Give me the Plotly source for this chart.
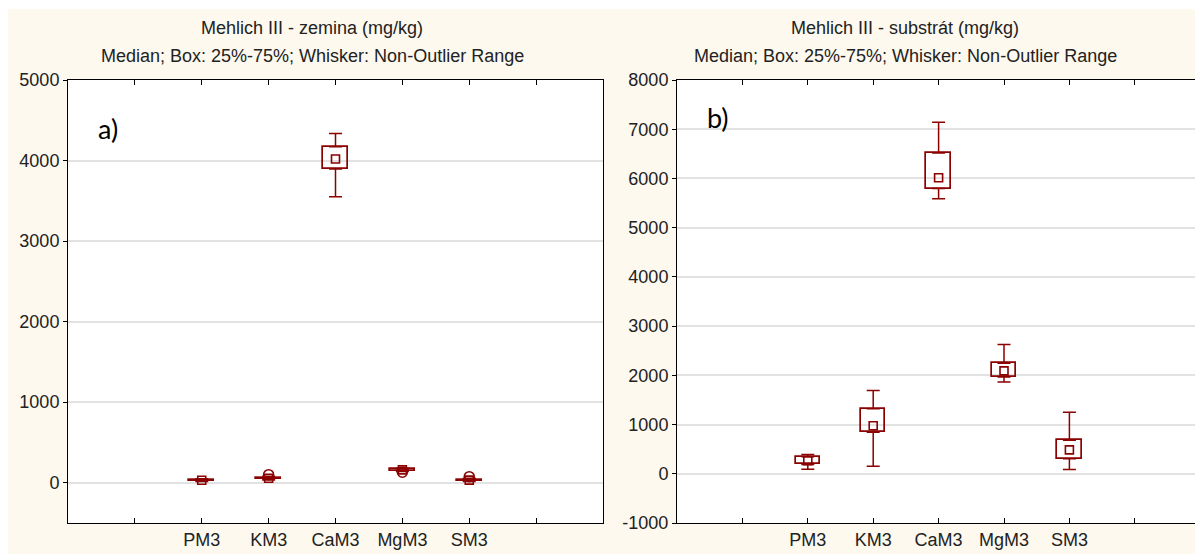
import plotly.graph_objects as go

# ---------------- data ----------------
slots = ["", "PM3", "KM3", "CaM3", "MgM3", "SM3", " "]   # x-axis tick labels (blank end slots)
cats = ["PM3", "KM3", "CaM3", "MgM3", "SM3"]

# a) Mehlich III - zemina (mg/kg)
soil_min = [15, 35, 3550, 140, 15]
soil_q1 = [24, 47, 3895, 150, 25]
soil_med = [30, 55, 4020, 160, 32]
soil_q3 = [38, 63, 4170, 170, 40]
soil_max = [50, 80, 4335, 180, 55]
soil_out_cat = ["KM3", "MgM3", "SM3"]
soil_out_val = [100, 130, 75]

# b) Mehlich III - substrát (mg/kg)
sub_min = [90, 155, 5590, 1866, 85]
sub_q1 = [190, 845, 5795, 1967, 305]
sub_med = [265, 975, 6015, 2090, 485]
sub_q3 = [345, 1320, 6515, 2245, 680]
sub_max = [390, 1690, 7140, 2625, 1250]

soil_yticks = [0, 1000, 2000, 3000, 4000, 5000]
sub_yticks = [-1000, 0, 1000, 2000, 3000, 4000, 5000, 6000, 7000, 8000]

titles = ["Mehlich III - zemina (mg/kg)", "Mehlich III - substrát (mg/kg)"]
subtitle = "Median; Box: 25%-75%; Whisker: Non-Outlier Range"
panel_labels = ["a)", "b)"]

# ---------------- style ----------------
MAROON = "#8B0000"
CREAM = "#FDF9EF"
FONT = "Liberation Sans, Arial, sans-serif"
BOXW = 0.375


def pos(c):
    return slots.index(c)


fig = go.Figure()


def add_panel(xa, ya, mn, q1, md, q3, mx, out_c=None, out_v=None):
    xs = [pos(c) for c in cats]
    # boxes
    fig.add_trace(go.Bar(
        x=xs, y=[b - a for a, b in zip(q1, q3)], base=q1, width=BOXW,
        marker=dict(color="rgba(0,0,0,0)", line=dict(color=MAROON, width=1.7)),
        xaxis=xa, yaxis=ya, showlegend=False, hoverinfo="skip"))
    # upper whiskers
    fig.add_trace(go.Scatter(
        x=xs, y=q3, mode="markers",
        marker=dict(size=1, color="rgba(0,0,0,0)"),
        error_y=dict(type="data", symmetric=False,
                     array=[b - a for a, b in zip(q3, mx)],
                     arrayminus=[0] * len(xs),
                     color=MAROON, thickness=1.5, width=6.5),
        xaxis=xa, yaxis=ya, showlegend=False, hoverinfo="skip"))
    # lower whiskers
    fig.add_trace(go.Scatter(
        x=xs, y=q1, mode="markers",
        marker=dict(size=1, color="rgba(0,0,0,0)"),
        error_y=dict(type="data", symmetric=False,
                     array=[0] * len(xs),
                     arrayminus=[a - b for a, b in zip(q1, mn)],
                     color=MAROON, thickness=1.5, width=6.5),
        xaxis=xa, yaxis=ya, showlegend=False, hoverinfo="skip"))
    # outliers
    if out_c:
        fig.add_trace(go.Scatter(
            x=[pos(c) for c in out_c], y=out_v, mode="markers",
            marker=dict(symbol="circle-open", size=10, color=MAROON, line=dict(width=1.5)),
            xaxis=xa, yaxis=ya, showlegend=False))
    # medians
    fig.add_trace(go.Scatter(
        x=xs, y=md, mode="markers",
        marker=dict(symbol="square", size=8, color="rgba(255,255,255,0)",
                    line=dict(color=MAROON, width=1.6)),
        xaxis=xa, yaxis=ya, showlegend=False))


add_panel("x", "y", soil_min, soil_q1, soil_med, soil_q3, soil_max, soil_out_cat, soil_out_val)
add_panel("x2", "y2", sub_min, sub_q1, sub_med, sub_q3, sub_max)

# pixel layout
FW, FH = 1195, 554
PL, PR, PT, PB = 68, 1195, 80, 523
PW = PR - PL
H = PB - PT
left_dom = [0, (603 - PL) / PW]
right_dom = [(677 - PL) / PW, 1]
right_unit_px = 65.4

xcommon = dict(
    tickmode="array", tickvals=list(range(len(slots))), ticktext=slots,
    showgrid=False, zeroline=False, showline=True, linecolor="black", linewidth=1,
    mirror="ticks", ticks="inside", ticklen=5, tickcolor="black",
    tickfont=dict(family=FONT, size=18, color="#222222"),
)
ycommon = dict(
    showgrid=True, gridcolor="#E2E2E2", gridwidth=1.5, zeroline=False,
    showline=True, linecolor="black", linewidth=1,
    ticks="outside", ticklen=4, tickcolor="black",
    tickfont=dict(family=FONT, size=18, color="#222222"),
)

fig.update_layout(
    width=FW, height=FH,
    margin=dict(l=PL, r=FW - PR, t=PT, b=FH - PB, autoexpand=False),
    paper_bgcolor=CREAM, plot_bgcolor="white",
    barmode="overlay", bargap=0,
    xaxis=dict(domain=left_dom, range=[-1, 7], anchor="y", **xcommon),
    yaxis=dict(domain=[0, 1], range=[-500, 5000], anchor="x", mirror=True,
               tickmode="array", tickvals=soil_yticks,
               ticktext=[str(v) for v in soil_yticks], **ycommon),
    xaxis2=dict(domain=right_dom, range=[-1, -1 + (PR - 677) / right_unit_px],
                anchor="y2", **xcommon),
    yaxis2=dict(domain=[0, 1], range=[-1000, 8000], anchor="x2", mirror=False,
                tickmode="array", tickvals=sub_yticks,
                ticktext=[str(v) for v in sub_yticks], **ycommon),
    showlegend=False,
)


def py(p):
    return (PB - p) / H


def px(p):
    return (p - PL) / PW


# white page strips (top and left) outside the cream chart background
fig.add_shape(type="rect", xref="paper", yref="paper",
              x0=px(-2), x1=px(FW + 2), y0=py(9), y1=py(-2),
              fillcolor="white", line=dict(width=0), layer="below")
fig.add_shape(type="rect", xref="paper", yref="paper",
              x0=px(-2), x1=px(8), y0=py(FH + 2), y1=py(-2),
              fillcolor="white", line=dict(width=0), layer="below")

for cx, t in zip([312, 905], titles):
    fig.add_annotation(text=t, xref="paper", yref="paper", x=px(cx), y=py(28),
                       xanchor="center", yanchor="middle", showarrow=False,
                       font=dict(family=FONT, size=18, color="#222222"))
    fig.add_annotation(text=subtitle, xref="paper", yref="paper", x=px(cx), y=py(56),
                       xanchor="center", yanchor="middle", showarrow=False,
                       font=dict(family=FONT, size=18, color="#222222"))

fig.add_annotation(text=panel_labels[0], xref="paper", yref="paper",
                   x=px(108), y=py(128), xanchor="center", yanchor="middle",
                   showarrow=False, font=dict(family="Lato, Carlito, sans-serif", size=27, color="black"))
fig.add_annotation(text=panel_labels[1], xref="paper", yref="paper",
                   x=px(718), y=py(117), xanchor="center", yanchor="middle",
                   showarrow=False, font=dict(family="Lato, Carlito, sans-serif", size=27, color="black"))

fig.write_html("out.html", config={"displayModeBar": False},
               post_script="document.body.style.margin='0';document.body.style.overflow='hidden';")
